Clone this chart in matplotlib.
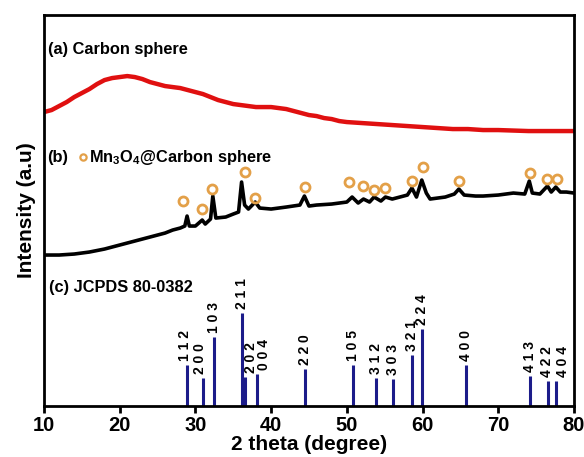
import matplotlib
matplotlib.use("Agg")
import matplotlib.pyplot as plt

plt.rcParams['font.family'] = ['Liberation Sans', 'DejaVu Sans']
plt.rcParams['font.weight'] = 'bold'
plt.rcParams['mathtext.fontset'] = 'custom'
plt.rcParams['mathtext.rm'] = 'Liberation Sans:bold'
plt.rcParams['mathtext.bf'] = 'Liberation Sans:bold'

# (a) carbon sphere (2theta, a.u.)
carbon_x = [10, 11, 12, 13, 14, 15, 16, 17, 18, 19, 20, 21, 22, 23, 24, 25, 26, 27, 28, 29,
            30, 31, 32, 33, 34, 35, 36, 37, 38, 39, 40, 41, 42, 43, 44, 45, 46, 47, 48, 49,
            50, 52, 54, 56, 58, 60, 62, 64, 66, 68, 70, 72, 74, 76, 78, 80]
carbon_y = [294, 296, 300, 304, 309, 313, 317, 322, 326, 328, 329, 330, 329, 327, 324, 322, 320, 319, 318, 316,
            314, 312, 309, 306, 304, 302, 301, 300, 299, 299, 299, 298, 297, 295, 293, 291, 290, 288, 287, 285,
            284, 283, 282, 281, 280, 279, 278, 277, 277, 276, 276, 275.5, 275, 275, 275, 275]

# (b) Mn3O4@carbon sphere
mn_x = [10, 12, 14, 16, 18, 20, 22, 24, 26, 27, 28, 28.6, 28.9, 29.2, 30, 30.9, 31.3, 32, 32.3, 32.7,
        34, 35, 35.7, 36.1, 36.5, 37, 37.9, 38.5, 40, 42, 43.8, 44.4, 45, 46, 48, 50, 50.7, 51.5,
        52.2, 53, 53.6, 54.5, 55.1, 56, 57, 58, 58.6, 59.2, 59.9, 60.5, 61, 62, 63, 64.2, 64.8,
        65.5, 67, 68, 70, 72, 73.5, 74.1, 74.5, 75.5, 76.5, 77, 77.6, 78.2, 79, 80]
mn_y = [151, 151, 152, 154, 157, 161, 165, 169, 173, 176, 178, 180, 190, 180, 180, 186, 182, 187, 210, 188,
        189, 192, 194, 224, 201, 197, 204, 198, 197, 199, 201, 210, 200, 201, 202, 204, 209, 203,
        207, 204, 209, 205, 209, 207, 209, 211, 218, 209, 226, 213, 207, 208, 209, 212, 217,
        211, 210, 210, 211, 213, 212, 225, 213, 212, 220, 214, 219, 214, 214, 213]

# marked reflections (circles)
mark_x = [28.4, 30.9, 32.2, 36.5, 37.9, 44.5, 50.3, 52.2, 53.6, 55.1, 58.6, 60.0, 64.8, 74.2, 76.4, 77.7]
mark_y = [205, 197, 217, 234, 208, 219, 224, 220, 216, 218, 225, 239, 225, 233, 227, 227]

# (c) JCPDS 80-0382 stick pattern
ref_pos = [28.95, 31.0, 32.4, 36.1, 36.55, 38.1, 44.45, 50.85, 53.9, 56.05, 58.6, 59.95,
           65.7, 74.15, 76.6, 77.6]
ref_int = [41, 28, 69, 93, 29, 32, 37, 41, 28, 27, 51, 77, 41, 30, 25, 25]
ref_hkl = ['1 1 2', '2 0 0', '1 0 3', '2 1 1', '2 0 2', '0 0 4', '2 2 0', '1 0 5', '3 1 2',
           '3 0 3', '3 2 1', '2 2 4', '4 0 0', '4 1 3', '4 2 2', '4 0 4']
hkl_shift = [-2, -2, 0, 0, 4, 5, 0, 0, 0, 0, 0, 0, 0, 0, -1, 5]

fig = plt.figure(figsize=(5.84, 4.57), dpi=100)
ax = fig.add_axes([0.0753, 0.1116, 0.9075, 0.8554])

ax.plot(carbon_x, carbon_y, color='#e01010', lw=3.2)
ax.plot(mn_x, mn_y, color='black', lw=2.6)
ax.plot(mark_x, mark_y, 'o', ms=6.5, mfc='none', mec='#e3a048', mew=2)

ax.vlines(ref_pos, 0, ref_int, color='#1c1c8a', lw=2.2)
for p, h, lab, dx in zip(ref_pos, ref_int, ref_hkl, hkl_shift):
    ax.annotate(lab, (p, h), xytext=(dx, 3), textcoords='offset points',
                rotation=90, ha='center', va='bottom', fontsize=10, fontweight='bold')

ax.text(10.5, 357, '(a) Carbon sphere', fontsize=11.8, fontweight='bold', va='center')
ax.text(10.4, 249, '(b)', fontsize=11.8, fontweight='bold', va='center')
ax.plot([15.1], [249], 'o', ms=4.5, mfc='none', mec='#e3a048', mew=1.6)
ax.text(15.9, 249, r'Mn$_\mathbf{3}$O$_\mathbf{4}$@Carbon sphere', fontsize=11.8,
        fontweight='bold', va='center')
ax.text(10.7, 119, '(c) JCPDS 80-0382', fontsize=11.8, fontweight='bold', va='center')

ax.set_xlim(10, 80)
ax.set_ylim(0, 391)
ax.set_xticks(range(10, 81, 10))
ax.set_yticks([])
ax.tick_params(axis='x', direction='out', length=5, width=2, labelsize=14.5, pad=2)
for lbl in ax.get_xticklabels():
    lbl.set_fontweight('bold')
for s in ax.spines.values():
    s.set_linewidth(2)

ax.set_xlabel('2 theta (degree)', fontsize=15, fontweight='bold', labelpad=0)
ax.set_ylabel('Intensity (a.u)', fontsize=15, fontweight='bold', labelpad=6)

fig.savefig('out.png', dpi=100)
